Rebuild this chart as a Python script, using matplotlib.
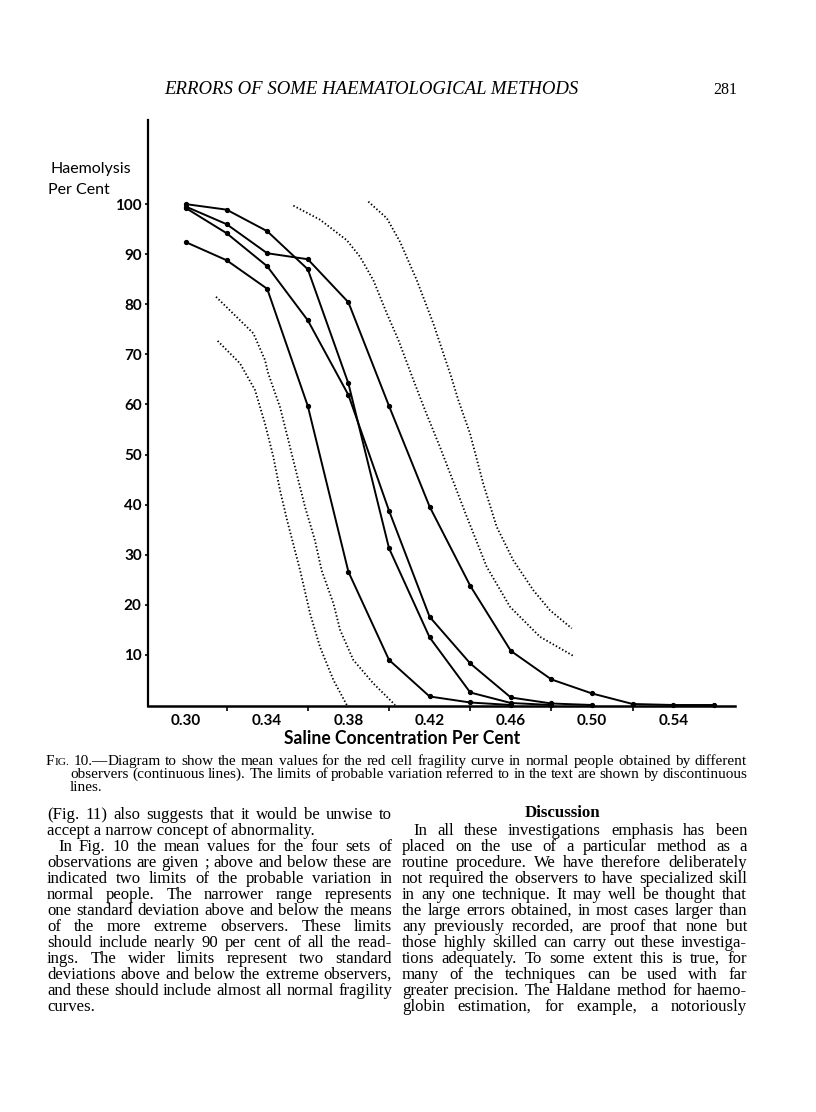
import matplotlib
matplotlib.use("Agg")
import matplotlib.pyplot as plt

W, H = 816, 1112

# mean fragility curves of the four observers (haemolysis %)
conc = [0.30, 0.32, 0.34, 0.36, 0.38, 0.40, 0.42, 0.44, 0.46, 0.48, 0.50, 0.52, 0.54, 0.56]
obs_a = [99.5, 96.0, 90.2, 89.0, 80.4, 59.7, 39.6, 23.8, 10.8, 5.1, 2.3, 0.2, 0.0, 0.0]
obs_b = [100.0, 98.9, 94.6, 87.0, 64.2, 31.3, 13.5, 2.5, 0.4, 0.0]
obs_c = [99.2, 94.2, 87.6, 76.8, 61.9, 38.8, 17.6, 8.3, 1.5, 0.3, 0.0]
obs_d = [92.4, 88.8, 83.1, 59.7, 26.6, 9.0, 1.7, 0.5, 0.0]

# limits of probable variation (dotted lines)
outer_lo_x = [0.3156, 0.3266, 0.3340, 0.3389, 0.3430, 0.3463, 0.3498, 0.3562, 0.3611, 0.3660, 0.3726, 0.3792]
outer_lo_y = [72.7, 68.2, 62.9, 56.2, 49.6, 42.9, 36.9, 26.9, 18.3, 11.6, 5.0, 0.0]
inner_lo_x = [0.3148, 0.3332, 0.3389, 0.3405, 0.3463, 0.3504, 0.3545, 0.3586, 0.3635, 0.3668, 0.3726,
              0.3759, 0.3824, 0.3923, 0.4030]
inner_lo_y = [81.5, 74.2, 68.9, 66.2, 59.5, 52.9, 46.2, 39.6, 32.9, 26.9, 20.3, 15.0, 9.0, 4.3, 0.0]
inner_hi_x = [0.3529, 0.3660, 0.3792, 0.3857, 0.3923, 0.3989, 0.4046, 0.4120, 0.4177, 0.4251, 0.4383,
              0.4481, 0.4596, 0.4744, 0.4908]
inner_hi_y = [99.7, 96.9, 92.8, 89.5, 84.8, 78.2, 72.9, 64.9, 58.9, 51.5, 37.6, 27.6, 19.6, 13.6, 9.8]
outer_hi_x = [0.3898, 0.3989, 0.4054, 0.4137, 0.4218, 0.4309, 0.4341, 0.4399, 0.4464, 0.4530, 0.4612,
              0.4711, 0.4793, 0.4900]
outer_hi_y = [100.5, 97.2, 92.5, 84.8, 76.2, 65.2, 60.9, 54.2, 44.2, 35.6, 28.9, 22.9, 18.9, 15.3]

xticks = [0.30, 0.34, 0.38, 0.42, 0.46, 0.50, 0.54]
xminor = [0.32, 0.36, 0.40, 0.44, 0.48, 0.52]
yticks = [10, 20, 30, 40, 50, 60, 70, 80, 90, 100]

header = "ERRORS OF SOME HAEMATOLOGICAL METHODS"
page_no = "281"

caption = [
    "Diagram to show the mean values for the red cell fragility curve in normal people obtained by different",
    "observers (continuous lines).   The limits of probable variation referred to in the text are shown by discontinuous",
    "lines.",
]

left_col = [
    ("(Fig. 11) also suggests that it would be unwise to", True, False),
    ("accept a narrow concept of abnormality.", False, False),
    ("In Fig. 10 the mean values for the four sets of", True, True),
    ("observations are given ; above and below these are", True, False),
    ("indicated two limits of the probable variation in", True, False),
    ("normal people.  The narrower range represents", True, False),
    ("one standard deviation above and below the means", True, False),
    ("of the more extreme observers.  These limits", True, False),
    ("should include nearly 90 per cent of all the read-", True, False),
    ("ings.  The wider limits represent two standard", True, False),
    ("deviations above and below the extreme observers,", True, False),
    ("and these should include almost all normal fragility", True, False),
    ("curves.", False, False),
]

right_col = [
    ("In all these investigations emphasis has been", True, True),
    ("placed on the use of a particular method as a", True, False),
    ("routine procedure.  We have therefore deliberately", True, False),
    ("not required the observers to have specialized skill", True, False),
    ("in any one technique.  It may well be thought that", True, False),
    ("the large errors obtained, in most cases larger than", True, False),
    ("any previously recorded, are proof that none but", True, False),
    ("those highly skilled can carry out these investiga-", True, False),
    ("tions adequately.  To some extent this is true, for", True, False),
    ("many of the techniques can be used with far", True, False),
    ("greater precision. The Haldane method for haemo-", True, False),
    ("globin estimation, for example, a notoriously", True, False),
]

fig = plt.figure(figsize=(W / 100, H / 100), dpi=100)
renderer = fig.canvas.get_renderer()
SERIF = "Liberation Serif"


def fx(x):
    return x / W


def fy(y):
    return 1 - y / H


def width(t):
    return t.get_window_extent(renderer).width


def fit(t, target):
    t.set_fontsize(t.get_fontsize() * target / width(t))


def natural_width(s, size):
    t = fig.text(0, 0, " ".join(s.split()), fontsize=size, family=SERIF)
    w = width(t)
    t.remove()
    return w


def size_for(lines, target, base=10.0):
    # largest size at which every justified line still fits with a normal word space
    return base * min(target / natural_width(s, base) for s in lines)


def put_line(s, x0, x1, y, size, justify=True, family=SERIF, **kw):
    if not justify:
        fig.text(fx(x0), fy(y), s, fontsize=size, family=family, va="baseline", **kw)
        return
    words = s.split()
    arts = [fig.text(0, fy(y), w, fontsize=size, family=family, va="baseline", **kw) for w in words]
    ws = [width(a) for a in arts]
    gap = (x1 - x0 - sum(ws)) / (len(words) - 1)
    x = x0
    for a, w in zip(arts, ws):
        a.set_x(fx(x))
        x += w + gap


# ---- chart ----
ax = fig.add_axes([fx(148), fy(706), (735 - 148) / W, (706 - 120) / H])
ax.set_xlim(0.2813, 0.5704)
ax.set_ylim(-0.2, 116.8)

for obs in (obs_a, obs_b, obs_c, obs_d):
    ax.plot(conc[:len(obs)], obs, color="black", lw=1.4, marker="o", ms=2.8, clip_on=False)

for xs, ys in ((outer_lo_x, outer_lo_y), (inner_lo_x, inner_lo_y),
               (inner_hi_x, inner_hi_y), (outer_hi_x, outer_hi_y)):
    ax.plot(xs, ys, color="black", lw=1.3, linestyle=(0, (0.8, 1.2)))

for side in ("top", "right"):
    ax.spines[side].set_visible(False)
ax.spines["left"].set_linewidth(1.6)
ax.spines["bottom"].set_linewidth(1.8)

ax.set_xticks(xticks)
ax.set_xticklabels([f"{v:.2f}" for v in xticks], family="Lato", fontweight="bold", fontsize=11)
ax.set_xticks(xminor, minor=True)
ax.tick_params(axis="x", which="major", length=0, pad=6)
ax.tick_params(axis="x", which="minor", length=3.5, width=1.2, direction="out")
ax.set_yticks(yticks)
ax.set_yticklabels([str(v) for v in yticks], family="Lato", fontweight="bold", fontsize=11)
ax.tick_params(axis="y", length=2.5, width=1.2, pad=2)

fig.text(fx(50), fy(173), "Haemolysis", family="Lato", fontsize=11.5, va="baseline")
fig.text(fx(48), fy(194), "Per Cent", family="Lato", fontsize=11.5, va="baseline")
t = fig.text(fx(402), fy(744), "Saline Concentration Per Cent", family="Lato", fontweight="bold",
             fontsize=11.5, ha="center", va="baseline")
fit(t, 236)

# ---- running head ----
t = fig.text(fx(371), fy(94), header, family=SERIF, style="italic", fontsize=11,
             ha="center", va="baseline")
fit(t, 415)
fig.text(fx(737), fy(94), page_no, family=SERIF, fontsize=11.5, ha="right", va="baseline")

# ---- caption ----
cap_size = size_for([caption[1]], 747 - 70)
tf = fig.text(fx(46), fy(765), "F", family=SERIF, fontsize=cap_size, va="baseline")
ti = fig.text(fx(46 + width(tf)), fy(765), "IG.", family=SERIF, fontsize=cap_size * 0.75,
              va="baseline")
x_after = 46 + width(tf) + width(ti) + 4
tn = fig.text(fx(x_after), fy(765), "10.\u2014", family=SERIF, fontsize=cap_size, va="baseline")
put_line(caption[0], x_after + width(tn), 747, 765, cap_size)
put_line(caption[1], 70, 747, 778, cap_size)
put_line(caption[2], 70, 747, 791, cap_size, justify=False)

# ---- body text ----
body_size = size_for([s for s, j, ind in left_col + right_col if j and not ind], 345)
for i, (s, just, indent) in enumerate(left_col):
    put_line(s, 47 + (11 if indent else 0), 392, 819 + 16 * i, body_size, justify=just)

fig.text(fx(562), fy(817), "Discussion", family=SERIF, fontweight="bold",
         fontsize=body_size, ha="center", va="baseline")
for i, (s, just, indent) in enumerate(right_col):
    put_line(s, 402 + (11 if indent else 0), 747, 835 + 16 * i, body_size, justify=just)

fig.savefig("out.png", dpi=100)
